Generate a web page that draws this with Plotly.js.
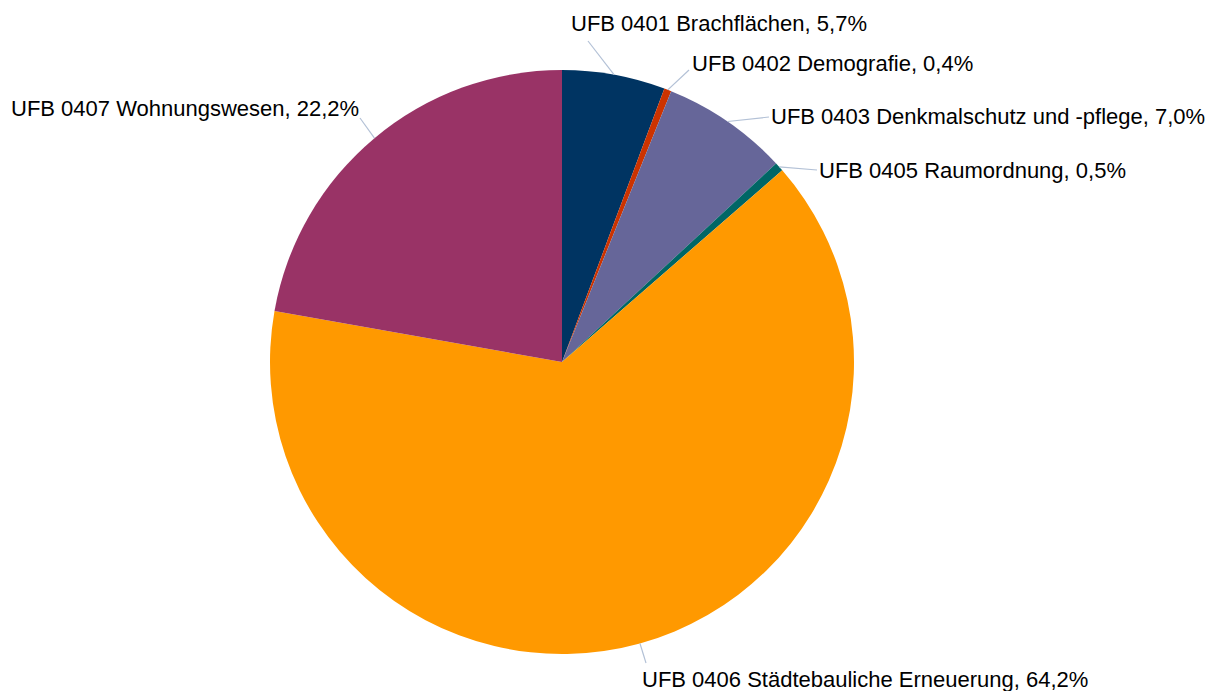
<!DOCTYPE html>
<html>
<head>
<meta charset="utf-8">
<script src="https://cdn.plot.ly/plotly-3.0.1.min.js"></script>
<style>html,body{margin:0;padding:0;background:#fff;}#chart{width:1210px;height:691px;}</style>
</head>
<body>
<div id="chart"></div>
<script>
// Data
const categories = [
  "UFB 0401 Brachflächen",
  "UFB 0402 Demografie",
  "UFB 0403 Denkmalschutz und -pflege",
  "UFB 0405 Raumordnung",
  "UFB 0406 Städtebauliche Erneuerung",
  "UFB 0407 Wohnungswesen"
];
const shares = [5.7, 0.4, 7.0, 0.5, 64.2, 22.2];
const colors = ["#003462", "#cc3300", "#666699", "#006666", "#ff9900", "#993366"];

// Layout (pixel geometry)
const W = 1210, H = 691;
const CX = 562, CY = 362, R = 292;
// label anchor [x, y, xanchor] and leader-line tail [x, y]
const labelPos = [
  [569, 24, "left"],
  [690, 64, "left"],
  [769, 116, "left"],
  [817, 170, "left"],
  [640, 679, "left"],
  [361, 109, "right"]
];
const lineTail = [
  [588, 41],
  [689, 70],
  [769, 117],
  [817, 170],
  [646, 663],
  [360, 118]
];

const px = x => x / W;
const py = y => 1 - y / H;
const fmt = v => v.toFixed(1).replace(".", ",") + "%";

const total = shares.reduce((a, b) => a + b, 0);
let cum = 0;
const annotations = [], shapes = [];
shares.forEach((v, i) => {
  const mid = (cum + v / 2) / total * 2 * Math.PI;
  cum += v;
  const ex = CX + R * Math.sin(mid);
  const ey = CY - R * Math.cos(mid);
  shapes.push({
    type: "line", xref: "paper", yref: "paper",
    x0: px(lineTail[i][0]), y0: py(lineTail[i][1]),
    x1: px(ex), y1: py(ey),
    line: {color: "#b3c1d6", width: 1.2}
  });
  annotations.push({
    xref: "paper", yref: "paper",
    x: px(labelPos[i][0]), y: py(labelPos[i][1]),
    xanchor: labelPos[i][2], yanchor: "middle",
    text: categories[i] + ", " + fmt(v),
    showarrow: false,
    font: {family: "Liberation Sans, Arial, sans-serif", size: 22, color: "#000"}
  });
});

const trace = {
  type: "pie",
  labels: categories,
  values: shares,
  sort: false,
  direction: "clockwise",
  rotation: 0,
  marker: {colors: colors, line: {width: 0}},
  textinfo: "none",
  hoverinfo: "label+percent",
  domain: {x: [px(CX - R), px(CX + R)], y: [py(CY + R), py(CY - R)]}
};

const layout = {
  width: W, height: H,
  margin: {l: 0, r: 0, t: 0, b: 0},
  showlegend: false,
  paper_bgcolor: "#fff",
  annotations: annotations,
  shapes: shapes
};

Plotly.newPlot("chart", [trace], layout, {displayModeBar: false, staticPlot: true});
</script>
</body>
</html>
